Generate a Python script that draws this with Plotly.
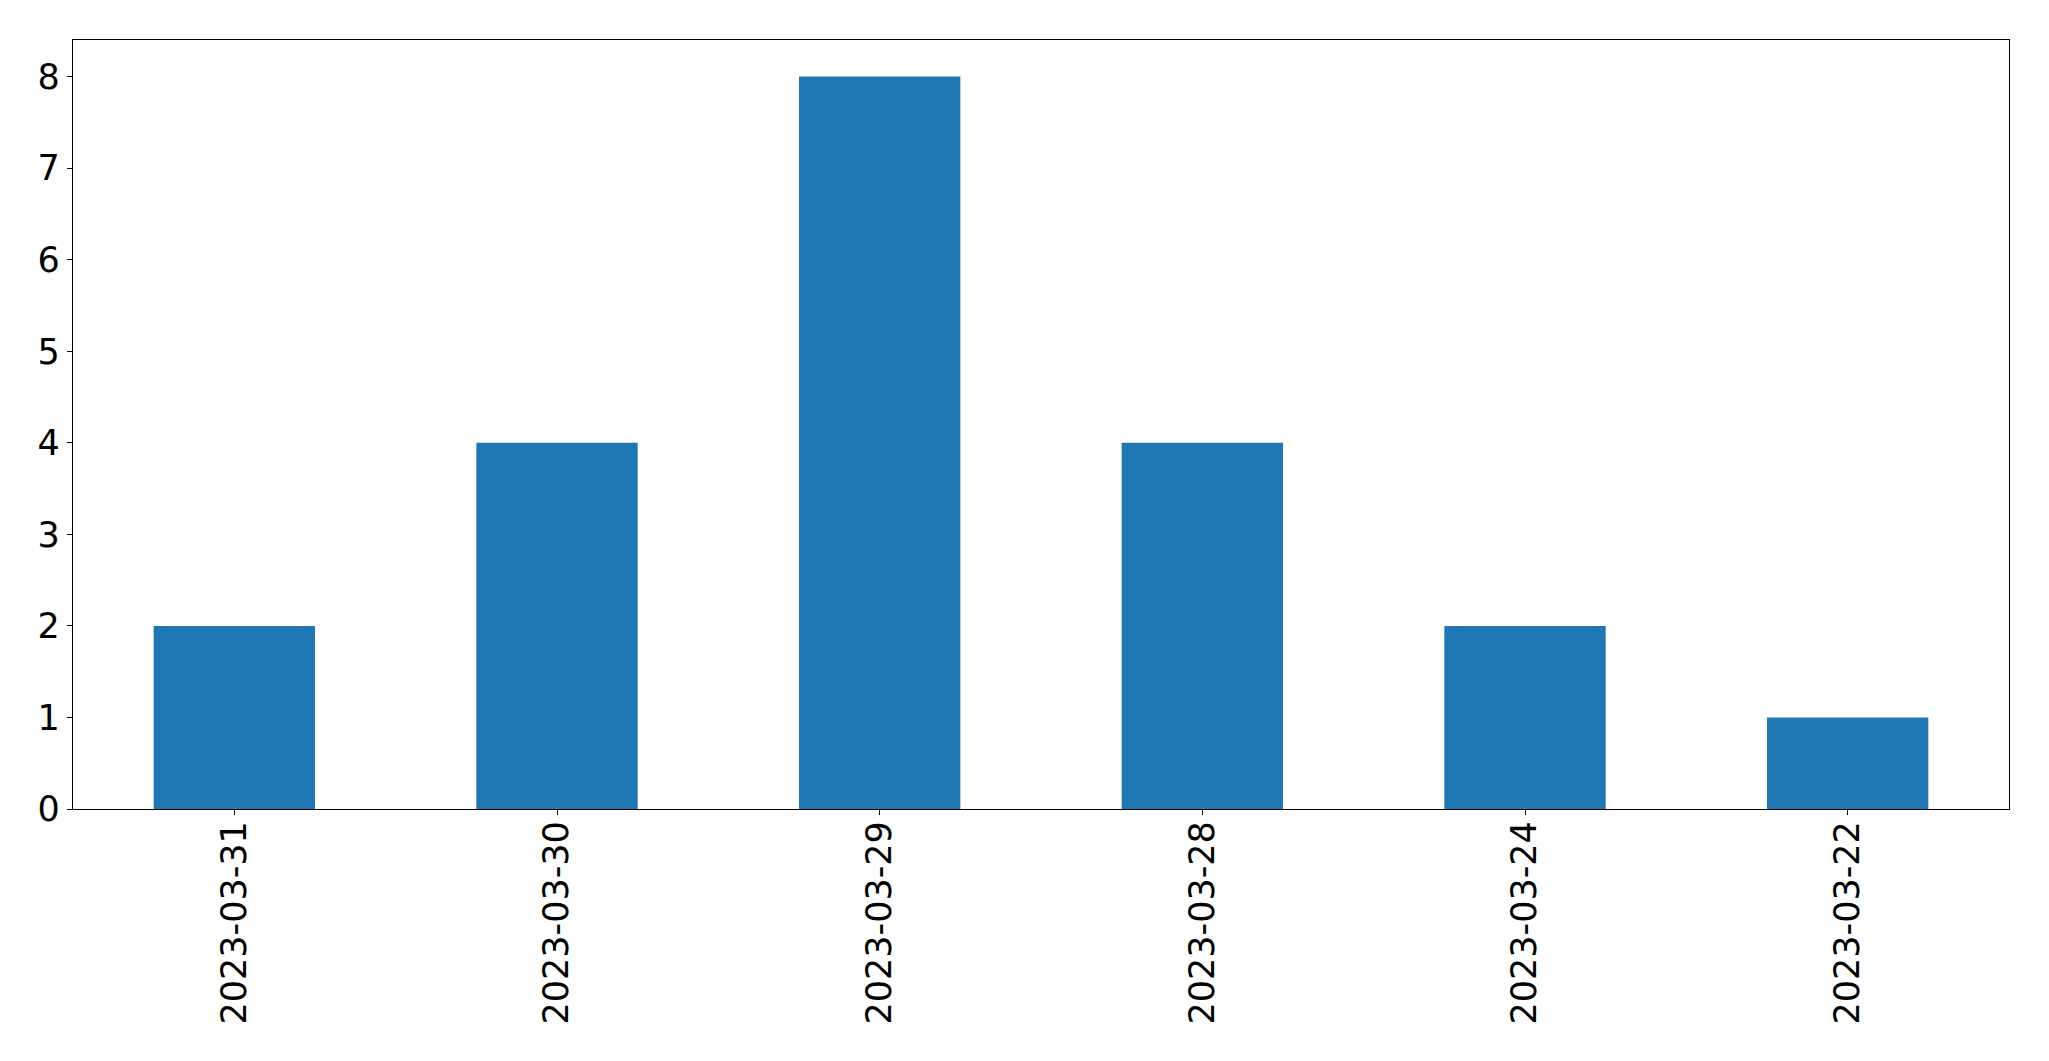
import plotly.graph_objects as go

dates = ["2023-03-31", "2023-03-30", "2023-03-29", "2023-03-28", "2023-03-24", "2023-03-22"]
counts = [2, 4, 8, 4, 2, 1]

fig = go.Figure(go.Bar(x=dates, y=counts, marker=dict(color="#1f77b4", line=dict(width=0)), width=0.5))

axis_common = dict(
    showline=True, linecolor="black", linewidth=1.3, mirror=True,
    ticks="outside", ticklen=5, tickwidth=1.3, tickcolor="black",
    showgrid=False, zeroline=False, automargin=False,
    tickfont=dict(family="DejaVu Sans", size=35, color="black"),
)

fig.update_layout(
    width=2049, height=1061,
    margin=dict(l=64.5, r=48, t=31.5, b=260),
    paper_bgcolor="white", plot_bgcolor="white",
    showlegend=False,
)
fig.update_xaxes(type="category", range=[-0.5, 5.5], tickangle=-90, ticklabelstandoff=-8, **axis_common)
fig.update_yaxes(range=[0, 8.4], tickmode="array", tickvals=[0, 1, 2, 3, 4, 5, 6, 7, 8], ticklabelstandoff=0, **axis_common)

fig.write_html("out.html")
